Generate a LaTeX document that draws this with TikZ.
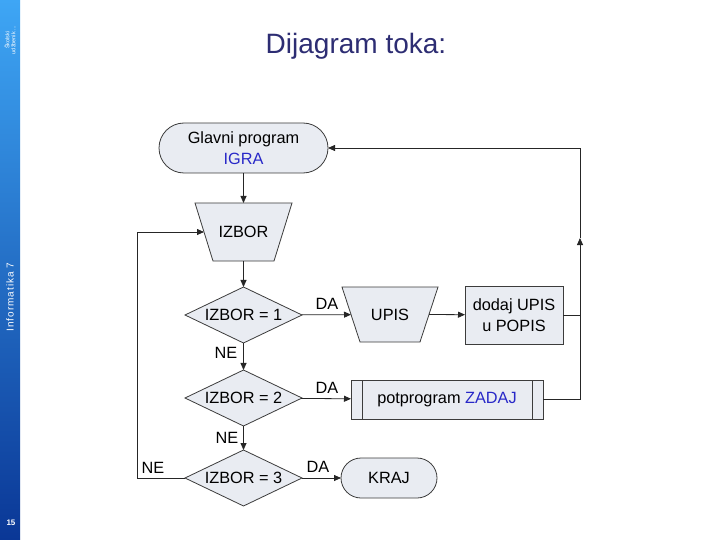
\documentclass[tikz,border=0pt]{standalone}
\usepackage{fontspec}
\setmainfont{Liberation Sans}
\usetikzlibrary{shapes.geometric,shapes.misc,arrows.meta}
\definecolor{fillc}{RGB}{233,236,242}
\definecolor{linec}{RGB}{60,60,60}
\definecolor{blueT}{RGB}{40,40,200}
\definecolor{titlec}{RGB}{45,45,115}
\definecolor{barTop}{RGB}{62,166,245}
\definecolor{barMid}{RGB}{28,105,205}
\definecolor{barBot}{RGB}{10,55,150}
\tikzset{
  base/.style={draw=linec, fill=fillc, line width=0.8pt, inner sep=0pt, outer sep=0pt,
    font=\fontsize{16.3}{21}\selectfont, align=center},
  decision/.style={base, diamond, aspect=2.1, minimum width=117pt, minimum height=56pt},
  term/.style={base, rounded rectangle},
  manual/.style={inner sep=0pt, outer sep=0pt, font=\fontsize{16.3}{21}\selectfont, align=center},
  procbox/.style={base, rectangle},
  arr/.style={-{Triangle[length=7pt,width=6pt]}, line width=0.8pt, draw=black!85},
  conn/.style={line width=0.8pt, draw=black!85},
  lbl/.style={font=\fontsize{16.3}{18}\selectfont, inner sep=0pt}
}
\begin{document}
\begin{tikzpicture}[x=1pt,y=-1pt]
\useasboundingbox (0,0) rectangle (720,540);
\fill[white] (0,0) rectangle (720,540);
\shade[top color=barTop, middle color=barMid, bottom color=barBot] (0,0) rectangle (20,540);
\node[rotate=90, text=white, font=\fontsize{5.5}{6}\selectfont, align=center, inner sep=0pt] (pub) at (10,40) {Školski\\udžbenik ...};
\node[rotate=90, text=white, font=\fontsize{10}{11}\selectfont\addfontfeature{LetterSpace=10}, inner sep=0pt] (inf) at (10,297) {Informatika 7};
\node[text=white, font=\bfseries\fontsize{8}{9}\selectfont, inner sep=0pt] (pg) at (11,523) {15};

\node[text=titlec, font=\fontsize{28}{32}\selectfont, anchor=base, inner sep=0pt] (title) at (356,54) {Dijagram toka:};

\node[term, minimum width=169pt, minimum height=50pt] (igra) at (243.5,148) {Glavni program\\\textcolor{blueT}{IGRA}};

% manual operation shapes: node is the mid-height rectangle, outline drawn as trapezoid
\node[manual, minimum width=79pt, minimum height=58pt] (izbor) at (243.5,232) {};
\filldraw[fill=fillc, draw=linec, line width=0.8pt]
  ([xshift=-9pt]izbor.north west) -- ([xshift=9pt]izbor.north east)
  -- ([xshift=-9pt]izbor.south east) -- ([xshift=9pt]izbor.south west) -- cycle;
\node[manual] at (izbor) {IZBOR};

\node[decision] (d1) at (243.5,315) {IZBOR = 1};

\node[manual, minimum width=78pt, minimum height=55pt] (upis) at (390,314.5) {};
\filldraw[fill=fillc, draw=linec, line width=0.8pt]
  ([xshift=-9pt]upis.north west) -- ([xshift=9pt]upis.north east)
  -- ([xshift=-9pt]upis.south east) -- ([xshift=9pt]upis.south west) -- cycle;
\node[manual] at (upis) {UPIS};

\node[procbox, minimum width=98pt, minimum height=58pt] (dodaj) at (514,315) {dodaj UPIS\\u POPIS};
\node[decision] (d2) at (243.5,398) {IZBOR = 2};
\node[procbox, minimum width=192pt, minimum height=39pt] (zadaj) at (447,399.5) {potprogram \textcolor{blueT}{ZADAJ}};
\draw[linec, line width=0.8pt] ([xshift=11pt]zadaj.north west) -- ([xshift=11pt]zadaj.south west);
\draw[linec, line width=0.8pt] ([xshift=-11pt]zadaj.north east) -- ([xshift=-11pt]zadaj.south east);
\node[decision] (d3) at (243.5,478) {IZBOR = 3};
\node[term, minimum width=96pt, minimum height=40pt] (kraj) at (389,478) {KRAJ};

% labels
\node[lbl] (da1) at (327,304) {DA};
\node[lbl] (ne1) at (226,353) {NE};
\node[lbl] (da2) at (327,388) {DA};
\node[lbl] (ne2) at (227,438) {NE};
\node[lbl] (da3) at (318,467) {DA};
\node[lbl] (ne3) at (153,468) {NE};

% connectors
\draw[arr] (igra) -- (izbor);
\draw[arr] (izbor) -- (d1);
\draw[arr] (d1) -- (upis);
\draw[arr] (upis.east) -- (dodaj);
\draw[arr] (d1) -- (d2);
\draw[arr] (d2) -- (zadaj);
\draw[arr] (d2) -- (d3);
\draw[arr] (d3) -- (kraj);

\coordinate (rj) at (580,315);
\coordinate (rm) at (580,238);
\draw[conn] (dodaj.east) -- (rj);
\draw[conn] (zadaj.east) -| (rj);
\draw[arr] (rj) -- (rm);
\draw[arr] (rm) |- (igra.east);

\coordinate (lc) at (137,478);
\draw[conn] (d3.west) -- (lc);
\draw[arr] (lc) |- (izbor.west);
\end{tikzpicture}
\end{document}
